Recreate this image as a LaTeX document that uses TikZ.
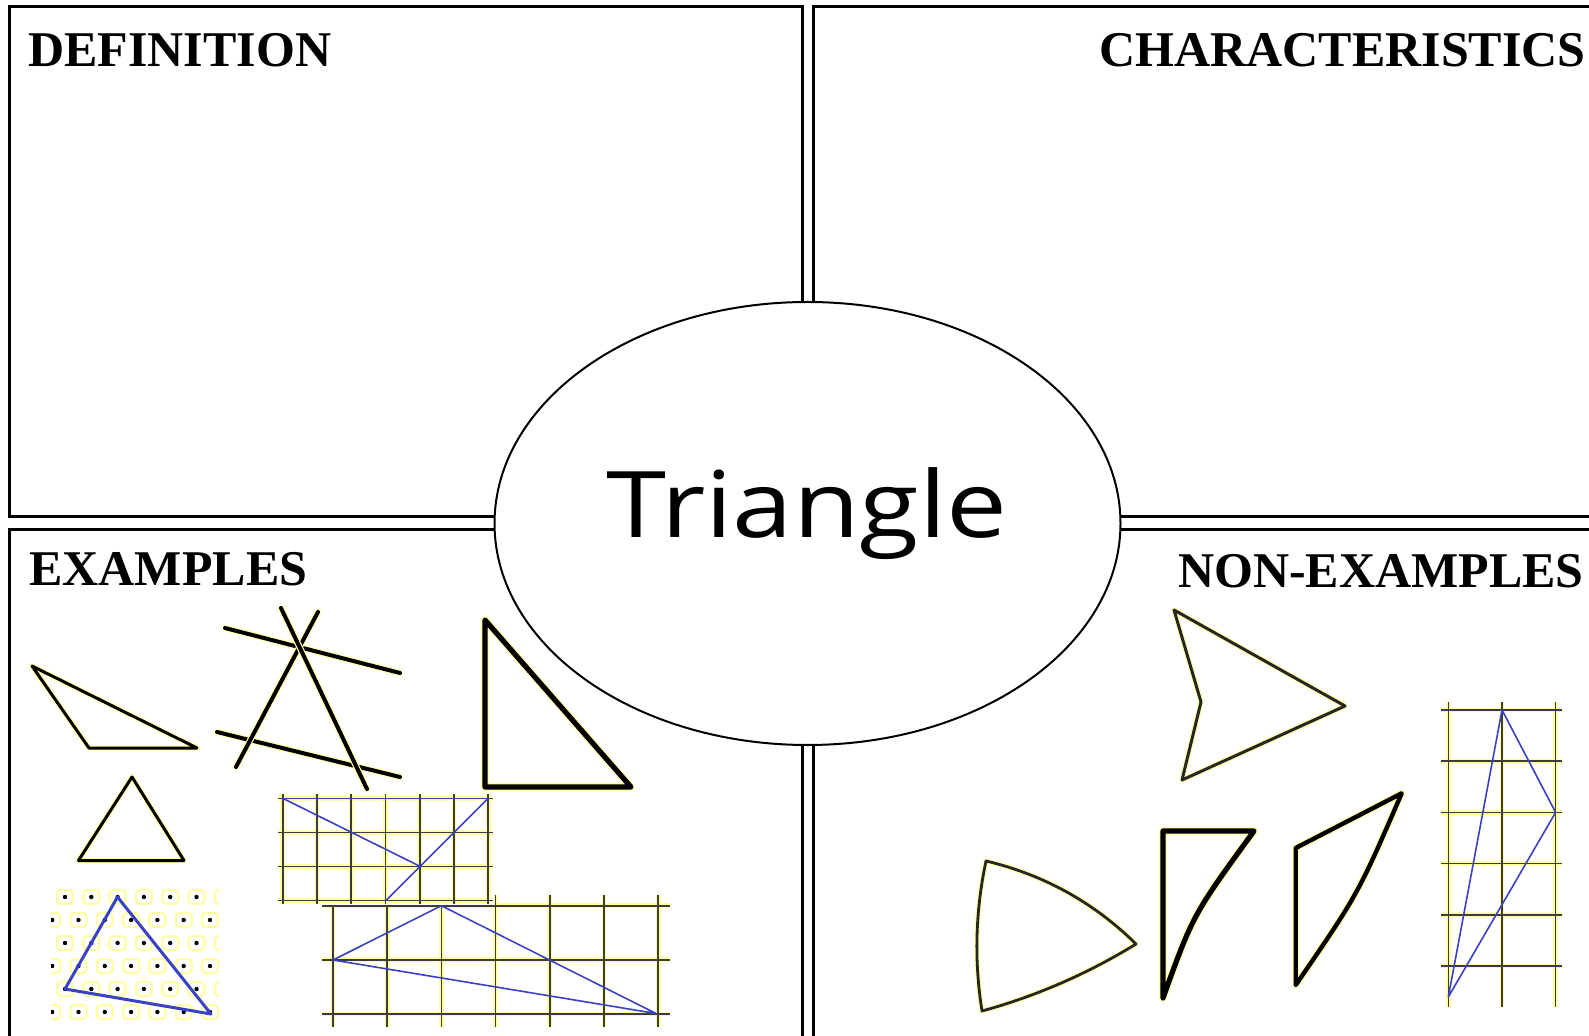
\documentclass[tikz,border=0pt]{standalone}
\usepackage{fontspec}
\setmainfont{Liberation Serif}
\newfontfamily\handfont{Open Sans}[FakeStretch=1.18]
\usetikzlibrary{shapes.geometric}
\definecolor{penblue}{RGB}{58,66,196}
\definecolor{glow}{RGB}{255,255,165}
\definecolor{gridgray}{RGB}{60,60,60}
\begin{document}
\begin{tikzpicture}[
  x=0.5pt, y=-0.5pt,
  box/.style={draw=black, line width=1.5pt},
  head/.style={font={\bfseries\fontsize{25}{30}\selectfont}, inner sep=0pt},
  hub/.style={ellipse, draw=black, fill=white, line width=1pt, minimum width=313pt, minimum height=221.5pt, inner sep=0pt},
  word/.style={font={\handfont\fontsize{46}{52}\selectfont}, inner sep=0pt},
  shp/.style={draw=black, line width=#1, line join=round, line cap=round, preaction={draw=glow, line join=round, line cap=round, line width=#1+1.2pt}},
  shp/.default=1.5pt,
  gridln/.style={draw=gridgray, line width=0.8pt, preaction={draw=glow, line width=2.4pt}},
  bluepen/.style={draw=penblue, line width=#1, line join=round},
  bluepen/.default=0.8pt,
  dotring/.style={draw=glow, line width=1.2pt, rounded corners=2pt}
]
\useasboundingbox (0,0) rectangle (1589,1036);
\clip (0,0) rectangle (1589,1036);
\draw[box] (9,7) rectangle (802,517);
\draw[box] (813,7) rectangle (1640,517);
\draw[box] (9,530) rectangle (802,1080);
\draw[box] (813,530) rectangle (1640,1080);
\node[head, anchor=base west] (defn) at (28,67) {DEFINITION};
\node[head, anchor=base east] (chars) at (1586,67) {CHARACTERISTICS};
\node[head, anchor=base west] (exam) at (29,586) {EXAMPLES};
\node[head, anchor=base east] (nonex) at (1584,588) {NON-EXAMPLES};
\node[hub] (hub) at (807.5,523.5) {};
\node[word, anchor=base] (word) at (807,538) {Triangle};
\draw[shp] (32,666) -- (89,748) -- (197,748) -- cycle;
\draw[shp=2pt] (225,628) -- (400,673);
\draw[shp=2pt] (217,732) -- (400,777);
\draw[shp=2pt] (318,612) -- (236,767);
\draw[shp=2pt] (281,608) -- (367,789);
\draw[shp=2.6pt] (485,620) -- (485,787) -- (631,787) -- cycle;
\draw[shp] (132,777) -- (78.5,860.5) -- (184,860.5) -- cycle;
\begin{scope}
\clip (51,888) rectangle (220,1019);
\foreach \r in {0,...,5}{
  \pgfmathsetmacro{\yy}{897+23*\r}
  \pgfmathsetmacro{\xo}{ifthenelse(mod(\r,2)==1,52.2,65)}
  \foreach \c in {0,...,6}{
    \pgfmathsetmacro{\xx}{\xo+26.3*\c}
    \draw[dotring] (\xx-8,\yy-7) rectangle (\xx+8,\yy+7);
    \fill[black] (\xx,\yy) circle (1.1pt);
  }
}
\end{scope}
\draw[bluepen=1.5pt] (117.5,897) -- (65,989) -- (211,1014) -- cycle;
\draw[gridln] \foreach \i in {0,...,6} {(333+54.2*\i,895) -- (333+54.2*\i,1027)}
  \foreach \j in {0,...,2} {(322,905.7+54.15*\j) -- (670,905.7+54.15*\j)};
\draw[bluepen] (333,960) -- (441.4,905.7) -- (656,1013.5) -- cycle;
\fill[white] (277,793) rectangle (494,904.5);
\draw[gridln] \foreach \i in {0,...,6} {(282.7+34.25*\i,794) -- (282.7+34.25*\i,904)}
  \foreach \j in {0,...,3} {(278,798.3+34.1*\j) -- (493,798.3+34.1*\j)};
\draw[bluepen] (282.7,798.3) -- (488.2,798.3);
\draw[bluepen] (282.7,798.3) -- (420.4,866.5);
\draw[bluepen] (488.2,798.3) -- (386,900.6);
\draw[shp=1.5pt, draw=black!85] (1174,610) -- (1345,706) -- (1182,780) -- (1201,702) -- cycle;
\draw[shp=1.4pt, draw=black!85] (986,861) .. controls (1043.7,874.7) and (1093.7,902.3) .. (1136,944)
  .. controls (1087.9,973.6) and (1036.5,996) .. (982,1011)
  .. controls (974,961) and (975.4,911) .. cycle;
\draw[shp=2.6pt] (1163,831) -- (1254,831) .. controls (1193,914.7) .. (1163,998) -- cycle;
\draw[shp=2.2pt] (1295.7,848) -- (1401.7,793.3) .. controls (1358,894.3) .. (1295.7,985) -- cycle;
\draw[gridln] \foreach \i in {0,...,2} {(1448.3+53.65*\i,702) -- (1448.3+53.65*\i,1007)}
  \foreach \j in {0,...,5} {(1441,710+51.2*\j) -- (1562,710+51.2*\j)};
\draw[bluepen] (1502,710) -- (1555.6,812.4) -- (1448.3,997) -- cycle;
\end{tikzpicture}
\end{document}
